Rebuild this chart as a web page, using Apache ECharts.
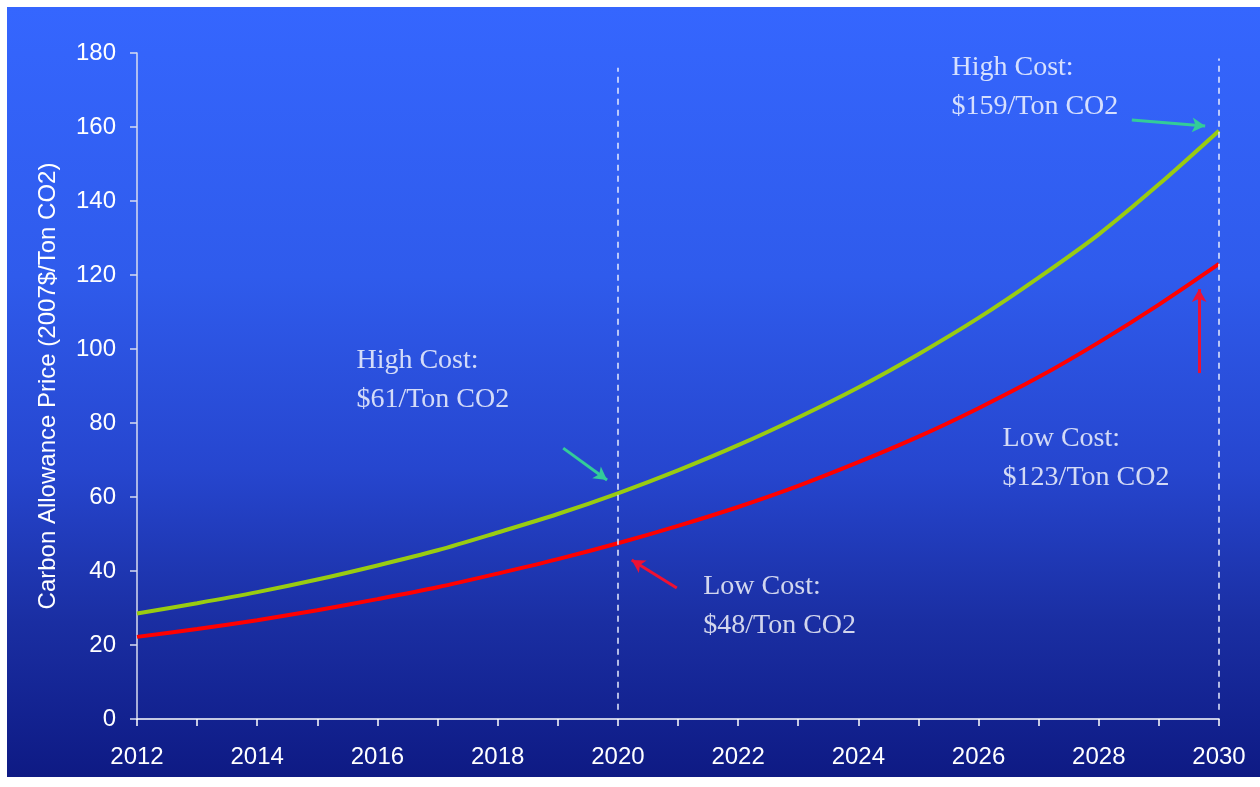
<!DOCTYPE html>
<html>
<head>
<meta charset="utf-8">
<script src="https://cdn.jsdelivr.net/npm/echarts@6/dist/echarts.min.js"></script>
<style>
html,body{margin:0;padding:0;background:#fff;}
#c{width:1260px;height:787px;}
</style>
</head>
<body>
<div id="c"></div>
<script>
var years = [2012,2013,2014,2015,2016,2017,2018,2019,2020,2021,2022,2023,2024,2025,2026,2027,2028,2029,2030];
var highCost = [28.5,31.3,34.3,37.7,41.5,45.6,50.4,55.4,61,67.2,74,81.5,89.6,98.6,108.4,119.3,131,144.5,159];
var lowCost  = [22.2,24.3,26.7,29.4,32.4,35.6,39.3,43.2,47.5,52.2,57.3,63,69.4,76.3,84,92.4,101.8,112,123];
var yTicks = [0,20,40,60,80,100,120,140,160,180];
var yAxisTitle = 'Carbon Allowance Price (2007$/Ton CO2)';
var notes = [
  {text:'High Cost:\n$61/Ton CO2', at:[2015.65, 91.6]},
  {text:'Low Cost:\n$48/Ton CO2', at:[2021.42, 30.5]},
  {text:'High Cost:\n$159/Ton CO2', at:[2025.55, 170.8]},
  {text:'Low Cost:\n$123/Ton CO2', at:[2026.4, 70.5]}
];

function pairs(v){ return years.map(function(y,i){ return [y, v[i]]; }); }

var chart = echarts.init(document.getElementById('c'));
var serif = '"Liberation Serif","Times New Roman",serif';
var sans = '"Liberation Sans",Arial,sans-serif';

var arrowGreen = '#33cc99';
var arrowRed = '#ee1133';

chart.setOption({
  backgroundColor: '#ffffff',
  animation: false,
  graphic: [{
    type: 'rect', z: -10, silent: true,
    shape: {x: 7, y: 7, width: 1253, height: 770},
    style: {
      fill: new echarts.graphic.LinearGradient(0,0,0,1,[
        {offset:0, color:'#3566fe'},
        {offset:0.35, color:'#2f5bec'},
        {offset:0.6, color:'#2646cf'},
        {offset:0.8, color:'#1a2ea2'},
        {offset:1, color:'#0e1a84'}
      ])
    }
  }],
  grid: {left: 137, right: 41, top: 53, bottom: 68, containLabel: false},
  xAxis: {
    type: 'value', min: 2012, max: 2030, interval: 1,
    axisLine: {show: true, lineStyle: {color: '#ffffff', width: 1.5}},
    axisTick: {show: true, length: 7, lineStyle: {color: '#ffffff', width: 1.5}},
    splitLine: {show: false},
    axisLabel: {
      color: '#ffffff', fontFamily: sans, fontSize: 24, margin: 26,
      formatter: function(v){ return (v % 2 === 0) ? String(v) : ''; }
    }
  },
  yAxis: {
    type: 'value', min: yTicks[0], max: yTicks[yTicks.length-1], interval: 20,
    name: yAxisTitle, nameLocation: 'middle', nameGap: 77, nameRotate: 90,
    nameTextStyle: {color: '#ffffff', fontFamily: sans, fontSize: 24},
    axisLine: {show: true, lineStyle: {color: '#d8dcf0', width: 1.5}},
    axisTick: {show: true, length: 7, lineStyle: {color: '#d8dcf0', width: 1.5}},
    splitLine: {show: false},
    axisLabel: {color: '#ffffff', fontFamily: sans, fontSize: 24, margin: 21}
  },
  series: [
    {
      name: 'High Cost', type: 'line', data: pairs(highCost), smooth: 0.3,
      showSymbol: false, lineStyle: {color: '#99cc11', width: 4}, z: 3,
      markLine: {
        silent: true, symbol: ['none','none'], label: {show: false},
        lineStyle: {color: '#e8ecff', type: [6,5], width: 1.5},
        data: [
          [{coord:[2020, 2.5]}, {coord:[2020, 176]}],
          [{coord:[2030, 2.5]}, {coord:[2030, 178.5]}]
        ]
      }
    },
    {
      name: 'Low Cost', type: 'line', data: pairs(lowCost), smooth: 0.3,
      showSymbol: false, lineStyle: {color: '#ff0000', width: 4}, z: 3
    },
    {
      name: 'arrows', type: 'line', data: [], silent: true,
      markLine: {
        silent: true, label: {show: false}, symbol: ['none','arrow'], symbolSize: [11, 13],
        lineStyle: {type: 'solid', width: 3},
        data: [
          [{coord:[2019.09, 73.2], lineStyle:{color:arrowGreen, width:3, type:'solid'}}, {coord:[2019.82, 64.6]}],
          [{coord:[2020.98, 35.4], lineStyle:{color:arrowRed, width:3, type:'solid'}}, {coord:[2020.23, 43.0]}],
          [{coord:[2028.55, 161.9], lineStyle:{color:arrowGreen, width:3, type:'solid'}}, {coord:[2029.77, 160.3]}],
          [{coord:[2029.67, 93.5], lineStyle:{color:arrowRed, width:3, type:'solid'}}, {coord:[2029.67, 116.2]}]
        ]
      }
    },
    {
      name: 'notes', type: 'scatter', silent: true, symbolSize: 0,
      data: notes.map(function(n){ return {value: n.at, label: {formatter: n.text}}; }),
      label: {
        show: true, position: 'right', distance: 0, align: 'left', verticalAlign: 'middle',
        color: '#ffffff', fontFamily: serif, fontSize: 28, lineHeight: 39
      }
    }
  ]
});
</script>
</body>
</html>
